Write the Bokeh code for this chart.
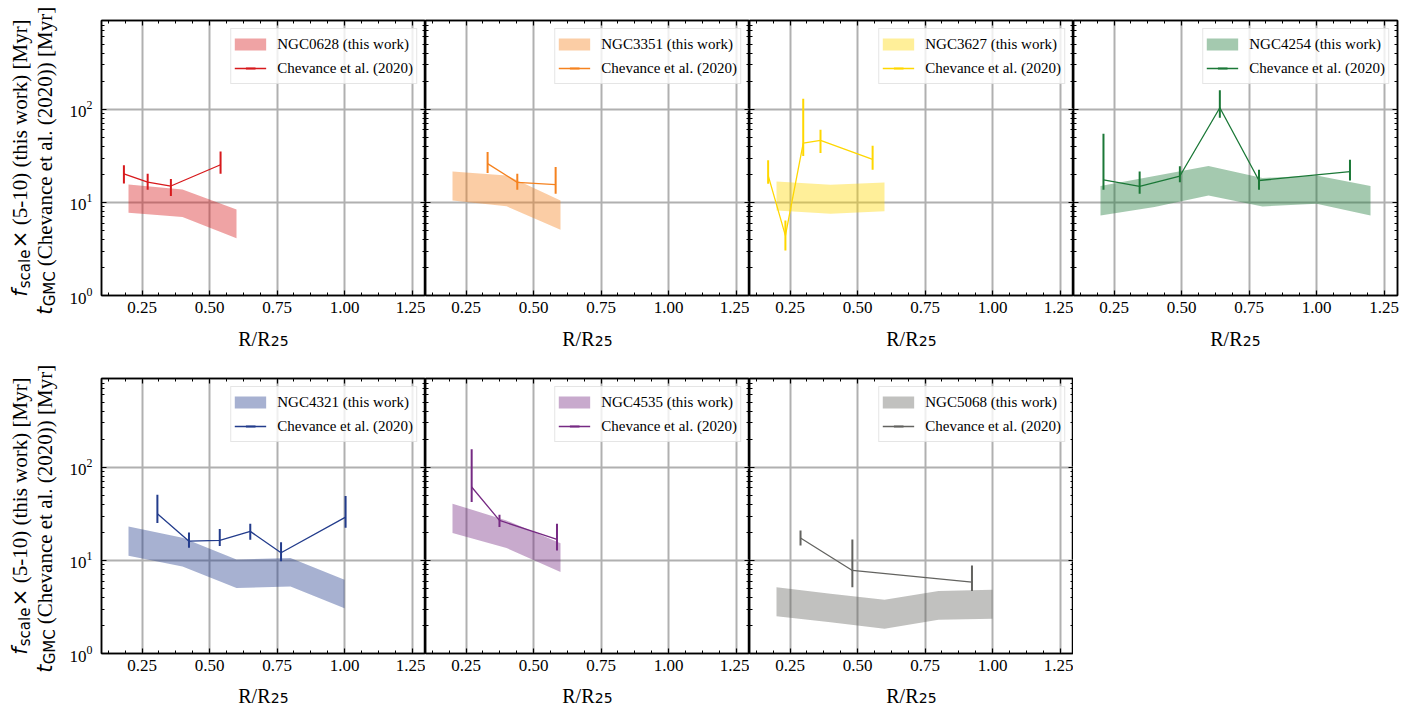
import numpy as np
from bokeh.plotting import figure
from bokeh.models import (Range1d, LogAxis, LinearAxis, LogTicker, SingleIntervalTicker,
                          PrintfTickFormatter, CustomJSTickFormatter, Label, Legend, LegendItem)
from bokeh.layouts import column, row
from bokeh.embed import file_html
from bokeh.resources import INLINE

# ---------------- data ----------------
galaxies = ["NGC0628", "NGC3351", "NGC3627", "NGC4254", "NGC4321", "NGC4535", "NGC5068"]
colors = ["#d7191c", "#f5821f", "#ffd700", "#1b7837", "#233c8c", "#762a83", "#636360"]

# this work: f_scale x (5-10) band, lower / upper edges
band_r_0628 = [0.2, 0.4, 0.6]
band_lo_0628 = [7.75, 6.95, 4.13]
band_hi_0628 = [15.6, 13.8, 8.4]

band_r_3351 = [0.2, 0.4, 0.6]
band_lo_3351 = [10.5, 9.1, 5.1]
band_hi_3351 = [21.5, 19.5, 10.5]

band_r_3627 = [0.2, 0.4, 0.6]
band_lo_3627 = [8.2, 7.55, 8.06]
band_hi_3627 = [16.8, 15.5, 16.4]

band_r_4254 = [0.2, 0.4, 0.6, 0.8, 1.0, 1.2]
band_lo_4254 = [7.25, 8.9, 11.9, 9.06, 9.68, 7.25]
band_hi_4254 = [15.0, 19.2, 24.6, 18.3, 19.5, 15.0]

band_r_4321 = [0.2, 0.4, 0.6, 0.8, 1.0]
band_lo_4321 = [11.2, 8.6, 5.04, 5.25, 3.07]
band_hi_4321 = [23.2, 17.5, 10.2, 10.6, 6.2]

band_r_4535 = [0.2, 0.4, 0.6]
band_lo_4535 = [19.7, 13.6, 7.5]
band_hi_4535 = [40.7, 26.9, 15.3]

band_r_5068 = [0.2, 0.4, 0.6, 0.8, 1.0]
band_lo_5068 = [2.52, 2.17, 1.84, 2.30, 2.36]
band_hi_5068 = [5.16, 4.38, 3.78, 4.68, 4.84]

# Chevance et al. (2020): t_GMC with error bar ends
chev_r_0628 = [0.183, 0.271, 0.357, 0.541]
chev_t_0628 = [20.3, 16.5, 15.0, 25.4]
chev_lo_0628 = [16.0, 13.7, 11.7, 20.3]
chev_hi_0628 = [25.0, 20.3, 17.9, 35.3]

chev_r_3351 = [0.330, 0.440, 0.582]
chev_t_3351 = [26.1, 16.4, 15.5]
chev_lo_3351 = [20.7, 13.7, 12.4]
chev_hi_3351 = [34.8, 20.3, 24.0]

chev_r_3627 = [0.169, 0.233, 0.299, 0.363, 0.556]
chev_t_3627 = [19.5, 4.4, 43.4, 46.4, 29.0]
chev_lo_3627 = [15.9, 3.05, 31.5, 33.9, 22.5]
chev_hi_3627 = [28.3, 6.4, 130.0, 60.4, 40.7]

chev_r_4254 = [0.211, 0.345, 0.494, 0.642, 0.787, 1.124]
chev_t_4254 = [17.5, 14.9, 19.2, 104.0, 17.2, 21.4]
chev_lo_4254 = [13.7, 12.4, 16.5, 81.4, 13.7, 17.2]
chev_hi_4254 = [54.7, 21.5, 24.4, 160.0, 22.5, 28.8]

chev_r_4321 = [0.307, 0.424, 0.538, 0.651, 0.765, 1.004]
chev_t_4321 = [31.8, 16.1, 16.4, 20.5, 12.1, 29.2]
chev_lo_4321 = [25.2, 13.7, 14.3, 16.7, 9.8, 22.5]
chev_hi_4321 = [50.8, 19.9, 21.7, 24.8, 15.7, 49.1]

chev_r_4535 = [0.271, 0.374, 0.587]
chev_t_4535 = [61.5, 26.9, 16.8]
chev_lo_4535 = [42.4, 22.8, 12.8]
chev_hi_4535 = [156.0, 31.0, 24.8]

chev_r_5068 = [0.289, 0.481, 0.924]
chev_t_5068 = [17.4, 7.8, 5.85]
chev_lo_5068 = [14.5, 5.16, 4.68]
chev_hi_5068 = [21.0, 16.8, 8.83]

bands = [
    (band_r_0628, band_lo_0628, band_hi_0628),
    (band_r_3351, band_lo_3351, band_hi_3351),
    (band_r_3627, band_lo_3627, band_hi_3627),
    (band_r_4254, band_lo_4254, band_hi_4254),
    (band_r_4321, band_lo_4321, band_hi_4321),
    (band_r_4535, band_lo_4535, band_hi_4535),
    (band_r_5068, band_lo_5068, band_hi_5068),
]
chevs = [
    (chev_r_0628, chev_t_0628, chev_lo_0628, chev_hi_0628),
    (chev_r_3351, chev_t_3351, chev_lo_3351, chev_hi_3351),
    (chev_r_3627, chev_t_3627, chev_lo_3627, chev_hi_3627),
    (chev_r_4254, chev_t_4254, chev_lo_4254, chev_hi_4254),
    (chev_r_4321, chev_t_4321, chev_lo_4321, chev_hi_4321),
    (chev_r_4535, chev_t_4535, chev_lo_4535, chev_hi_4535),
    (chev_r_5068, chev_t_5068, chev_lo_5068, chev_hi_5068),
]

# ---------------- styling / layout ----------------
SERIF = "Liberation Serif"
SANS = "DejaVu Sans"
FRAME_W, FRAME_H = 324, 275
YLAB_W = 62          # strip holding the rotated y labels
LEFT_B = 39          # room for y tick labels
RIGHT_B = 10
TOP_B = [20, 28]     # top border per row
BOT_B = 28
XSTRIP_H = [27, 25]  # strip holding the x label per row
XLAB_BASE = [12, 11]


def style_axis(ax, show_labels):
    ax.major_tick_in = 5
    ax.major_tick_out = 0
    ax.minor_tick_in = 3
    ax.minor_tick_out = 0
    ax.major_tick_line_width = 1.2
    ax.minor_tick_line_width = 1
    ax.major_tick_line_color = "black"
    ax.minor_tick_line_color = "black"
    ax.axis_line_color = "black"
    ax.axis_line_width = 1.5
    if show_labels:
        ax.major_label_text_font = SERIF
        ax.major_label_text_font_size = "17px"
        ax.major_label_text_color = "black"
    else:
        ax.major_label_text_font_size = "0px"
        ax.major_label_standoff = 0
        ax.formatter = CustomJSTickFormatter(code="return ''")


def blank_fig(w, h):
    f = figure(width=w, height=h, x_range=Range1d(0, 1), y_range=Range1d(0, 1),
               output_backend="svg", toolbar_location=None, min_border=0, title=None,
               x_axis_location=None, y_axis_location=None)
    f.outline_line_color = None
    f.background_fill_color = "white"
    f.border_fill_color = "white"
    for g in f.grid:
        g.visible = False
    return f


def add_pieces(p, pieces, base, start, vertical):
    pos = start
    for text, font, size, style, width, shift in pieces:
        if vertical:
            lab = Label(x=base + shift, y=pos, x_units="screen", y_units="screen", text=text,
                        angle=np.pi / 2, text_align="left", text_baseline="alphabetic")
        else:
            lab = Label(x=pos, y=base - shift, x_units="screen", y_units="screen", text=text,
                        text_align="left", text_baseline="alphabetic")
        lab.text_font = font
        lab.text_font_size = f"{size}px"
        lab.text_font_style = style
        lab.text_color = "black"
        p.add_layout(lab)
        pos += width


def add_ylabel(f, center_from_bottom):
    line1 = [("f", SANS, 21, "italic", 8.5, 0),
             ("scale", SANS, 15, "normal", 40.0, 5),
             ("×", SANS, 21, "normal", 23.0, 0),
             ("(5-10) (this work) [Myr]", SERIF, 21, "normal", 206.0, 0)]
    line2 = [("t", SANS, 21, "italic", 8.5, 0),
             ("GMC", SANS, 15, "normal", 40.0, 5),
             ("(Chevance et al. (2020)) [Myr]", SERIF, 21, "normal", 265.0, 0)]
    for base, pieces in ((19, line1), (44, line2)):
        total = sum(pc[4] for pc in pieces)
        add_pieces(f, pieces, base, center_from_bottom - total / 2, True)


def xlabel_fig(w, h, offset, baseline):
    f = blank_fig(w, h)
    pieces = [("R/R", SERIF, 20, "normal", 32.5, 0),
              ("25", SANS, 14, "normal", 18.0, 2)]
    total = sum(pc[4] for pc in pieces)
    add_pieces(f, pieces, baseline, offset + FRAME_W / 2 - total / 2, False)
    return f


def make_panel(i, first_col, last_col, r):
    name, c = galaxies[i], colors[i]
    br, blo, bhi = bands[i]
    cr, ct, clo, chi = chevs[i]
    ml = LEFT_B if first_col else 0
    mr = RIGHT_B if last_col else 0
    mt = TOP_B[r]
    mb = BOT_B
    p = figure(width=ml + FRAME_W + mr, height=mt + FRAME_H + mb, title=None,
               x_range=Range1d(0.1, 1.3), y_range=Range1d(1, 900), y_axis_type="log",
               output_backend="svg", toolbar_location=None,
               min_border_left=ml, min_border_right=mr, min_border_top=mt, min_border_bottom=mb)
    p.outline_line_color = "black"
    p.outline_line_width = 1.5
    p.background_fill_color = "white"
    p.border_fill_color = "white"

    xt = SingleIntervalTicker(interval=0.25, num_minor_ticks=4)
    yt = LogTicker(num_minor_ticks=10)
    bottom = p.below[0]
    left = p.left[0]
    bottom.ticker = xt
    bottom.formatter = PrintfTickFormatter(format="%.2f")
    bottom.major_label_standoff = 6
    left.ticker = yt
    left.major_label_standoff = 9
    style_axis(bottom, True)
    style_axis(left, first_col)

    top = LinearAxis(ticker=SingleIntervalTicker(interval=0.25, num_minor_ticks=4))
    style_axis(top, False)
    p.add_layout(top, "above")
    right = LogAxis(ticker=LogTicker(num_minor_ticks=10))
    style_axis(right, False)
    p.add_layout(right, "right")

    p.xgrid.ticker = xt
    p.ygrid.ticker = yt
    p.grid.grid_line_color = "#b0b0b0"
    p.grid.grid_line_width = 2

    p.varea(x=br, y1=blo, y2=bhi, fill_color=c, fill_alpha=0.4)
    ln = p.line(cr, ct, line_color=c, line_width=1.3)
    p.segment(x0=cr, y0=clo, x1=cr, y1=chi, line_color=c, line_width=2)

    # legend swatches (zero-length / zero-size so they draw nothing in the plot)
    sw_band = p.segment(x0=br[:1], y0=blo[:1], x1=br[:1], y1=blo[:1], line_color=c,
                        line_alpha=0.4, line_width=12, line_cap="butt")
    sw_bar = p.scatter(x=cr[:1], y=ct[:1], marker="dash", angle=np.pi / 2, size=0,
                       line_color=c, line_width=2)
    legend = Legend(items=[LegendItem(label=f"{name} (this work)", renderers=[sw_band]),
                           LegendItem(label="Chevance et al. (2020)", renderers=[ln, sw_bar])],
                    location="top_right")
    legend.margin = 8
    legend.padding = 3
    legend.spacing = -2
    legend.glyph_width = 32
    legend.glyph_height = 24
    legend.label_standoff = 11
    legend.label_text_font = SERIF
    legend.label_text_font_size = "15px"
    legend.label_text_color = "black"
    legend.border_line_color = "#cccccc"
    legend.border_line_width = 1
    legend.background_fill_alpha = 0.8
    p.add_layout(legend)
    return p


rows_spec = [[0, 1, 2, 3], [4, 5, 6]]
main_children = []
row_heights = []
for r, idxs in enumerate(rows_spec):
    figs = []
    strips = []
    for k, i in enumerate(idxs):
        first = k == 0
        last = i == 3
        figs.append(make_panel(i, first, last, r))
        w = (LEFT_B if first else 0) + FRAME_W + (RIGHT_B if last else 0)
        offset = LEFT_B if first else 0
        strips.append(xlabel_fig(w, XSTRIP_H[r], offset, XLAB_BASE[r]))
    main_children.append(row(*figs, spacing=0))
    main_children.append(row(*strips, spacing=0))
    row_heights.append(TOP_B[r] + FRAME_H + BOT_B + XSTRIP_H[r])

total_h = sum(row_heights)
ylab = blank_fig(YLAB_W, total_h)
# vertical centre of each row's frame, measured from the bottom of the strip
c_top = total_h - (TOP_B[0] + FRAME_H / 2)
c_bot = total_h - (row_heights[0] + TOP_B[1] + FRAME_H / 2)
add_ylabel(ylab, c_top)
add_ylabel(ylab, c_bot)

layout = row(ylab, column(*main_children, spacing=0), spacing=0)

open("out.html", "w").write(file_html(layout, INLINE))
